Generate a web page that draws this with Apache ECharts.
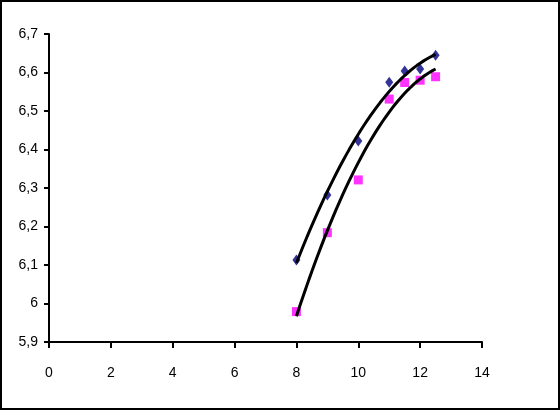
<!DOCTYPE html>
<html><head><meta charset="utf-8">
<script src="https://cdn.jsdelivr.net/npm/echarts@6/dist/echarts.min.js"></script>
<style>html,body{margin:0;padding:0;background:#fff}#c{width:560px;height:410px;box-sizing:border-box;border:2px solid #000}</style>
</head><body><div id="c"></div>
<script>
const xValues = [8, 9, 10, 11, 11.5, 12, 12.5];
const seriesA = [6.113, 6.282, 6.422, 6.575, 6.604, 6.609, 6.645];
const seriesB = [5.979, 6.184, 6.321, 6.531, 6.574, 6.580, 6.589];
const xTicks = [0, 2, 4, 6, 8, 10, 12, 14];
const yTicks = [5.9, 6.0, 6.1, 6.2, 6.3, 6.4, 6.5, 6.6, 6.7];

function quadFit(xs, ys) {
  let n = xs.length, s = [0,0,0,0,0], t = [0,0,0];
  for (let i = 0; i < n; i++) {
    const x = xs[i], y = ys[i];
    for (let k = 0; k < 5; k++) s[k] += Math.pow(x, k);
    for (let k = 0; k < 3; k++) t[k] += y * Math.pow(x, k);
  }
  const M = [[s[0], s[1], s[2], t[0]], [s[1], s[2], s[3], t[1]], [s[2], s[3], s[4], t[2]]];
  for (let i = 0; i < 3; i++) {
    for (let j = i + 1; j < 3; j++) {
      const f = M[j][i] / M[i][i];
      for (let k = i; k < 4; k++) M[j][k] -= f * M[i][k];
    }
  }
  const c = [0,0,0];
  for (let i = 2; i >= 0; i--) {
    let v = M[i][3];
    for (let k = i + 1; k < 3; k++) v -= M[i][k] * c[k];
    c[i] = v / M[i][i];
  }
  return c;
}
function trend(xs, ys) {
  const c = quadFit(xs, ys), out = [];
  const x0 = xs[0], x1 = xs[xs.length - 1];
  for (let i = 0; i <= 45; i++) {
    const x = x0 + (x1 - x0) * i / 45;
    out.push([x, c[0] + c[1] * x + c[2] * x * x]);
  }
  return out;
}
const pts = (ys) => xValues.map((x, i) => [x, ys[i]]);
const chart = echarts.init(document.getElementById('c'), null, {renderer: 'canvas'});
const font = {fontFamily: 'Liberation Sans, Arial, sans-serif', fontSize: 14, color: '#000'};
chart.setOption({
  animation: false,
  backgroundColor: '#fff',
  grid: {left: 47, right: 76, top: 32, bottom: 66},
  xAxis: {
    type: 'value', min: xTicks[0], max: xTicks[xTicks.length - 1], interval: 2,
    axisLine: {lineStyle: {color: '#000', width: 2}},
    axisTick: {lineStyle: {color: '#000', width: 2}, length: 6},
    axisLabel: Object.assign({margin: 24}, font),
    splitLine: {show: false}
  },
  yAxis: {
    type: 'value', min: yTicks[0], max: yTicks[yTicks.length - 1], interval: 0.1,
    axisLine: {show: true, lineStyle: {color: '#000', width: 2}},
    axisTick: {show: true, lineStyle: {color: '#000', width: 2}, length: 5},
    axisLabel: Object.assign({margin: 11, padding: [3, 0, 0, 0], formatter: v => String(+v.toFixed(1)).replace('.', ',')}, font),
    splitLine: {show: false}
  },
  series: [
    {type: 'scatter', data: pts(seriesA), symbol: 'diamond', symbolSize: [8, 11], itemStyle: {color: '#000080'}, z: 2},
    {type: 'scatter', data: pts(seriesB), symbol: 'rect', symbolSize: 9, itemStyle: {color: '#FF00FF'}, z: 2},
    {type: 'line', data: trend(xValues, seriesA), showSymbol: false, lineStyle: {color: '#000', width: 3}, z: 3},
    {type: 'line', data: trend(xValues, seriesB), showSymbol: false, lineStyle: {color: '#000', width: 3}, z: 3}
  ]
});
</script></body></html>
